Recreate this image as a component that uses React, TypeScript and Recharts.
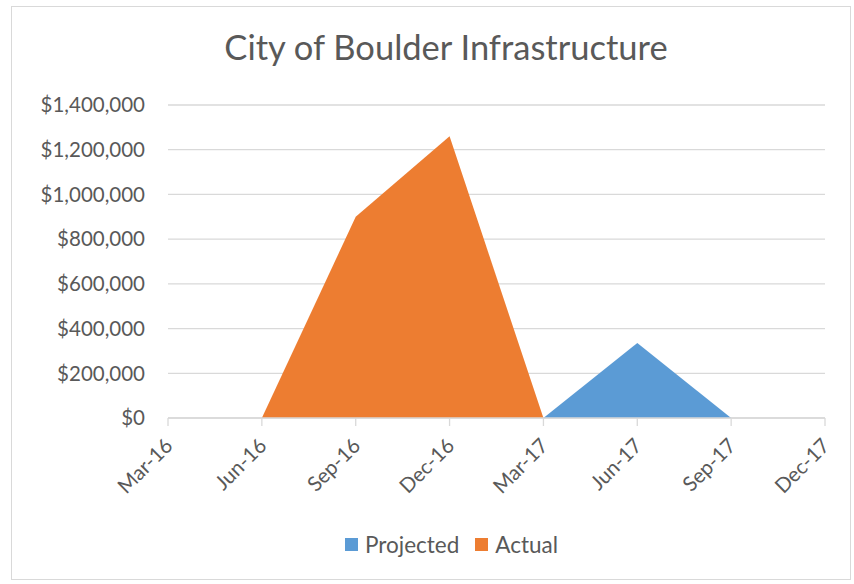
import React from 'react';
import { AreaChart, Area, XAxis, YAxis, CartesianGrid, Legend } from 'recharts';

// quarters on the category axis
const quarters = ['Mar-16', 'Jun-16', 'Sep-16', 'Dec-16', 'Mar-17', 'Jun-17', 'Sep-17', 'Dec-17'];
// spending per quarter, null where the series has no value
const actual = [null, 0, 900000, 1260000, 0, null, null, null];
const projected = [null, null, null, null, 0, 335000, 0, null];
const yTicks = [0, 200000, 400000, 600000, 800000, 1000000, 1200000, 1400000];

const COLORS = {
  projected: '#5B9BD5',
  actual: '#ED7D31',
  grid: '#D9D9D9',
  text: '#595959',
};

const FONT = 'Lato, "Open Sans", sans-serif';

const data = quarters.map((q, i) => ({
  quarter: q,
  actual: actual[i],
  projected: projected[i],
}));

const formatMoney = (v: number) => '$' + v.toLocaleString('en-US');

function QuarterTick(props: any) {
  const { x, y, payload } = props;
  const tx = x + 6;
  const ty = y + 19;
  return (
    <text
      x={tx}
      y={ty}
      transform={`rotate(-45, ${tx}, ${ty})`}
      textAnchor="end"
      fill={COLORS.text}
      style={{ fontSize: 20.5, fontFamily: FONT }}
    >
      {payload.value}
    </text>
  );
}

function LegendBox() {
  const items = [
    { label: 'Projected', color: COLORS.projected },
    { label: 'Actual', color: COLORS.actual },
  ];
  return (
    <div style={{ display: 'flex', justifyContent: 'center', paddingTop: 17, paddingLeft: 78 }}>
      {items.map((it) => (
        <div key={it.label} style={{ display: 'flex', alignItems: 'center', margin: '0 8px' }}>
          <span style={{ width: 13, height: 13, background: it.color, marginRight: 7 }} />
          <span style={{ fontSize: 22.5, color: COLORS.text, fontFamily: FONT }}>{it.label}</span>
        </div>
      ))}
    </div>
  );
}

export default function App() {
  return (
    <div style={{ position: 'absolute', left: 0, top: 0, width: 854, height: 584, background: '#fff' }}>
      <div
        style={{
          position: 'absolute',
          left: 11,
          top: 6,
          width: 838,
          height: 572,
          border: `1px solid ${COLORS.grid}`,
        }}
      />
      <div
        style={{
          position: 'absolute',
          left: 0,
          width: 892,
          top: 26,
          textAlign: 'center',
          fontSize: 34.5,
          color: COLORS.text,
          fontFamily: FONT,
        }}
      >
        City of Boulder Infrastructure
      </div>
      <div style={{ position: 'absolute', left: 0, top: 0 }}>
        <AreaChart
          width={854}
          height={584}
          data={data}
          margin={{ top: 105, right: 29, left: 0, bottom: 0 }}
        >
          <CartesianGrid vertical={false} stroke={COLORS.grid} strokeWidth={1.3} />
          <XAxis
            dataKey="quarter"
            height={96}
            interval={0}
            stroke={COLORS.grid}
            strokeWidth={1.3}
            tickSize={8}
            tick={<QuarterTick />}
          />
          <YAxis
            width={168}
            domain={[0, 1400000]}
            ticks={yTicks}
            axisLine={false}
            tickLine={false}
            tickSize={0}
            tickMargin={23}
            tickFormatter={formatMoney}
            tick={{ fill: COLORS.text, fontSize: 20.5, fontFamily: FONT }}
          />
          <Area
            dataKey="projected"
            name="Projected"
            type="linear"
            stroke="none"
            fill={COLORS.projected}
            fillOpacity={1}
            dot={false}
            activeDot={false}
            isAnimationActive={false}
          />
          <Area
            dataKey="actual"
            name="Actual"
            type="linear"
            stroke="none"
            fill={COLORS.actual}
            fillOpacity={1}
            dot={false}
            activeDot={false}
            isAnimationActive={false}
          />
          <Legend verticalAlign="bottom" height={70} content={<LegendBox />} />
        </AreaChart>
      </div>
    </div>
  );
}
